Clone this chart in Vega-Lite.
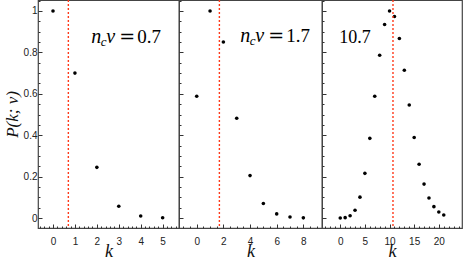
{
  "$schema": "https://vega.github.io/schema/vega-lite/v6.json",
  "padding": {"left": 2, "top": -2, "right": 0, "bottom": 0},
  "spacing": 0,
  "bounds": "flush",
  "datasets": {
    "p1": [{"k":0,"p":1.0},{"k":1,"p":0.70},{"k":2,"p":0.245},{"k":3,"p":0.057},{"k":4,"p":0.010},{"k":5,"p":0.0014}],
    "p2": [{"k":0,"p":0.588},{"k":1,"p":1.0},{"k":2,"p":0.85},{"k":3,"p":0.482},{"k":4,"p":0.205},{"k":5,"p":0.070},{"k":6,"p":0.020},{"k":7,"p":0.005},{"k":8,"p":0.001}],
    "p3": [{"k":0,"p":0.0002},{"k":1,"p":0.002},{"k":2,"p":0.011},{"k":3,"p":0.038},{"k":4,"p":0.101},{"k":5,"p":0.216},{"k":6,"p":0.385},{"k":7,"p":0.588},{"k":8,"p":0.786},{"k":9,"p":0.935},{"k":10,"p":1.0},{"k":11,"p":0.973},{"k":12,"p":0.867},{"k":13,"p":0.714},{"k":14,"p":0.546},{"k":15,"p":0.389},{"k":16,"p":0.260},{"k":17,"p":0.164},{"k":18,"p":0.097},{"k":19,"p":0.055},{"k":20,"p":0.029},{"k":21,"p":0.015}],
    "mean": [{"panel":1,"nv":0.7,"lx":1.746,"ly":0.847},{"panel":2,"nv":1.7,"lx":3.27,"ly":0.852},{"panel":3,"nv":10.7,"lx":-0.2,"ly":0.847}]
  },
  "hconcat": [
    {
      "width": 141, "height": 228,
      "layer": [
        {
          "data": {"name": "p1"},
          "mark": {"type": "circle", "size": 13, "color": "black", "opacity": 1},
          "encoding": {
            "x": {"field": "k", "type": "quantitative", "scale": {"domain": [-0.684, 5.746], "nice": false, "zero": false},
                  "axis": {"values": [0,1,2,3,4,5], "title": "k"}},
            "y": {"field": "p", "type": "quantitative", "scale": {"domain": [-0.048, 1.053], "nice": false, "zero": false},
                  "axis": {"values": [0,0.2,0.4,0.6,0.8,1], "title": "P(k; v)", "labelExpr": "datum.value == 0 ? '0' : datum.value == 1 ? '1' : format(datum.value, '.1f')"}}
          }
        },
        {
          "data": {"name": "mean"},
          "transform": [{"filter": "datum.panel == 1"}],
          "mark": {"type": "rule", "color": "#ff3a1a", "strokeDash": [2, 2], "strokeWidth": 1.4},
          "encoding": {
            "x": {"field": "nv", "type": "quantitative", "axis": {"orient": "top", "offset": -228, "values": [-0.6,-0.4,-0.2,0.2,0.4,0.6,0.8,1.2,1.4,1.6,1.8,2.2,2.4,2.6,2.8,3.2,3.4,3.6,3.8,4.2,4.4,4.6,4.8,5.2,5.4,5.6], "labels": false, "title": null, "tickSize": 2}}
          }
        },
        {
          "data": {"name": "mean"},
          "transform": [{"filter": "datum.panel == 1"}],
          "mark": {"type": "text", "text": "n", "font": "Liberation Serif", "fontStyle": "italic", "fontSize": 20, "align": "left", "baseline": "alphabetic"},
          "encoding": {
            "x": {"field": "lx", "type": "quantitative", "axis": null},
            "y": {"field": "ly", "type": "quantitative", "axis": {"orient": "right", "offset": -141, "values": [0.05,0.1,0.15,0.25,0.3,0.35,0.45,0.5,0.55,0.65,0.7,0.75,0.85,0.9,0.95,1.05], "labels": false, "title": null, "tickSize": 2}}
          }
        },
        {
          "data": {"name": "mean"},
          "transform": [{"filter": "datum.panel == 1"}],
          "mark": {"type": "text", "text": "c", "font": "Liberation Serif", "fontStyle": "italic", "fontSize": 13, "align": "left", "baseline": "alphabetic", "dx": 9.5, "dy": 3},
          "encoding": {"x": {"field": "lx", "type": "quantitative", "axis": null}, "y": {"field": "ly", "type": "quantitative", "axis": null}}
        },
        {
          "data": {"name": "mean"},
          "transform": [{"filter": "datum.panel == 1"}],
          "mark": {"type": "text", "text": "v", "font": "Liberation Serif", "fontStyle": "italic", "fontSize": 20, "align": "left", "baseline": "alphabetic", "dx": 15},
          "encoding": {"x": {"field": "lx", "type": "quantitative", "axis": null}, "y": {"field": "ly", "type": "quantitative", "axis": null}}
        },
        {
          "data": {"name": "mean"},
          "transform": [{"filter": "datum.panel == 1"}],
          "mark": {"type": "text", "text": "=", "font": "DejaVu Serif", "fontSize": 19, "align": "left", "baseline": "alphabetic", "dx": 28},
          "encoding": {"x": {"field": "lx", "type": "quantitative", "axis": null}, "y": {"field": "ly", "type": "quantitative", "axis": null}}
        },
        {
          "data": {"name": "mean"},
          "transform": [{"filter": "datum.panel == 1"}],
          "mark": {"type": "text", "text": "0.7", "font": "Liberation Serif", "fontSize": 19, "align": "left", "baseline": "alphabetic", "dx": 46},
          "encoding": {"x": {"field": "lx", "type": "quantitative", "axis": null}, "y": {"field": "ly", "type": "quantitative", "axis": null}}
        }
      ],
      "resolve": {"axis": {"x": "independent", "y": "independent"}}
    },
    {
      "width": 143, "height": 228,
      "layer": [
        {
          "data": {"name": "p2"},
          "mark": {"type": "circle", "size": 13, "color": "black", "opacity": 1},
          "encoding": {
            "x": {"field": "k", "type": "quantitative", "scale": {"domain": [-1.33, 9.4], "nice": false, "zero": false},
                  "axis": {"values": [0,2,4,6,8], "title": "k"}},
            "y": {"field": "p", "type": "quantitative", "scale": {"domain": [-0.048, 1.053], "nice": false, "zero": false},
                  "axis": {"values": [0,0.2,0.4,0.6,0.8,1], "labels": false, "title": null}}
          }
        },
        {
          "data": {"name": "mean"},
          "transform": [{"filter": "datum.panel == 2"}],
          "mark": {"type": "rule", "color": "#ff3a1a", "strokeDash": [2, 2], "strokeWidth": 1.4},
          "encoding": {
            "x": {"field": "nv", "type": "quantitative", "axis": {"orient": "top", "offset": -228, "values": [-1,-0.5,0.5,1,1.5,2.5,3,3.5,4.5,5,5.5,6.5,7,7.5,8.5,9], "labels": false, "title": null, "tickSize": 2}}
          }
        },
        {
          "data": {"name": "mean"},
          "transform": [{"filter": "datum.panel == 2"}],
          "mark": {"type": "text", "text": "n", "font": "Liberation Serif", "fontStyle": "italic", "fontSize": 20, "align": "left", "baseline": "alphabetic"},
          "encoding": {
            "x": {"field": "lx", "type": "quantitative", "axis": null},
            "y": {"field": "ly", "type": "quantitative", "axis": {"orient": "right", "offset": -143, "values": [0.05,0.1,0.15,0.25,0.3,0.35,0.45,0.5,0.55,0.65,0.7,0.75,0.85,0.9,0.95,1.05], "labels": false, "title": null, "tickSize": 2}}
          }
        },
        {
          "data": {"name": "mean"},
          "transform": [{"filter": "datum.panel == 2"}],
          "mark": {"type": "text", "text": "c", "font": "Liberation Serif", "fontStyle": "italic", "fontSize": 13, "align": "left", "baseline": "alphabetic", "dx": 9.5, "dy": 3},
          "encoding": {"x": {"field": "lx", "type": "quantitative", "axis": null}, "y": {"field": "ly", "type": "quantitative", "axis": null}}
        },
        {
          "data": {"name": "mean"},
          "transform": [{"filter": "datum.panel == 2"}],
          "mark": {"type": "text", "text": "v", "font": "Liberation Serif", "fontStyle": "italic", "fontSize": 20, "align": "left", "baseline": "alphabetic", "dx": 15},
          "encoding": {"x": {"field": "lx", "type": "quantitative", "axis": null}, "y": {"field": "ly", "type": "quantitative", "axis": null}}
        },
        {
          "data": {"name": "mean"},
          "transform": [{"filter": "datum.panel == 2"}],
          "mark": {"type": "text", "text": "=", "font": "DejaVu Serif", "fontSize": 19, "align": "left", "baseline": "alphabetic", "dx": 28},
          "encoding": {"x": {"field": "lx", "type": "quantitative", "axis": null}, "y": {"field": "ly", "type": "quantitative", "axis": null}}
        },
        {
          "data": {"name": "mean"},
          "transform": [{"filter": "datum.panel == 2"}],
          "mark": {"type": "text", "text": "1.7", "font": "Liberation Serif", "fontSize": 19, "align": "left", "baseline": "alphabetic", "dx": 46},
          "encoding": {"x": {"field": "lx", "type": "quantitative", "axis": null}, "y": {"field": "ly", "type": "quantitative", "axis": null}}
        }
      ],
      "resolve": {"axis": {"x": "independent", "y": "independent"}}
    },
    {
      "width": 140, "height": 228,
      "layer": [
        {
          "data": {"name": "p3"},
          "mark": {"type": "circle", "size": 13, "color": "black", "opacity": 1},
          "encoding": {
            "x": {"field": "k", "type": "quantitative", "scale": {"domain": [-3.7, 24.7], "nice": false, "zero": false},
                  "axis": {"values": [0,5,10,15,20], "title": "k"}},
            "y": {"field": "p", "type": "quantitative", "scale": {"domain": [-0.048, 1.053], "nice": false, "zero": false},
                  "axis": {"values": [0,0.2,0.4,0.6,0.8,1], "labels": false, "title": null}}
          }
        },
        {
          "data": {"name": "mean"},
          "transform": [{"filter": "datum.panel == 3"}],
          "mark": {"type": "rule", "color": "#ff3a1a", "strokeDash": [2, 2], "strokeWidth": 1.4},
          "encoding": {
            "x": {"field": "nv", "type": "quantitative", "axis": {"orient": "top", "offset": -228, "values": [-3,-2,-1,1,2,3,4,6,7,8,9,11,12,13,14,16,17,18,19,21,22,23,24], "labels": false, "title": null, "tickSize": 2}}
          }
        },
        {
          "data": {"name": "mean"},
          "transform": [{"filter": "datum.panel == 3"}],
          "mark": {"type": "text", "text": "10.7", "font": "Liberation Serif", "fontSize": 18, "align": "left", "baseline": "alphabetic"},
          "encoding": {
            "x": {"field": "lx", "type": "quantitative", "axis": null},
            "y": {"field": "ly", "type": "quantitative", "axis": {"orient": "right", "offset": -140, "values": [0.05,0.1,0.15,0.25,0.3,0.35,0.45,0.5,0.55,0.65,0.7,0.75,0.85,0.9,0.95,1.05], "labels": false, "title": null, "tickSize": 2}}
          }
        }
      ],
      "resolve": {"axis": {"x": "independent", "y": "independent"}}
    }
  ],
  "config": {
    "view": {"stroke": "#444", "strokeWidth": 1.2},
    "axis": {
      "domain": false, "grid": false, "tickSize": -4, "tickColor": "#333", "tickWidth": 1,
      "labelFont": "Liberation Sans", "labelFontSize": 10, "labelColor": "#222",
      "titleFont": "Liberation Serif", "titleFontStyle": "italic", "titleFontWeight": "normal", "titleFontSize": 18, "titleColor": "#111"
    },
    "axisX": {"labelPadding": 12, "titlePadding": -4},
    "axisY": {"labelPadding": 5, "titlePadding": 2, "titleFontSize": 17}
  }
}
